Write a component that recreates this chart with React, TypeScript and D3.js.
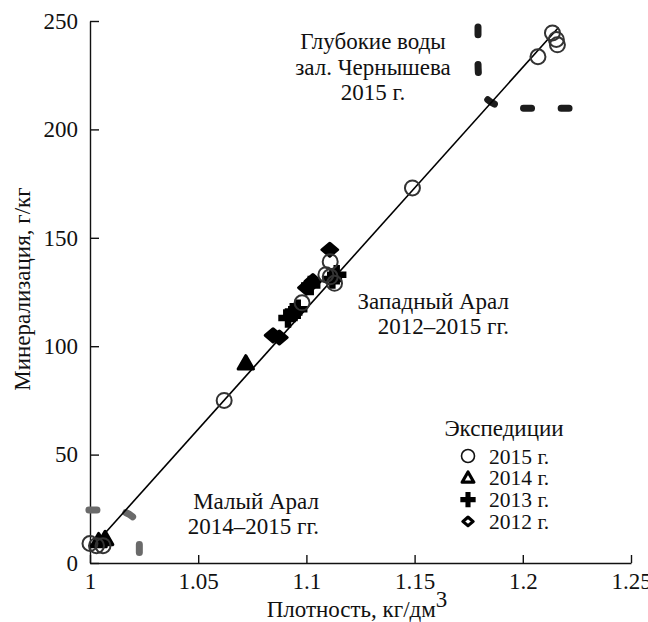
import React, { useEffect, useRef } from 'react';
import * as d3 from 'd3';

// Expedition labels
const years = ['2015 г.', '2014 г.', '2013 г.', '2012 г.'];

// 2015 expedition (circles)
const density2015 = [1.0, 1.003, 1.006, 1.062, 1.098, 1.109, 1.111, 1.111, 1.113, 1.149, 1.207, 1.2137, 1.2155, 1.216];
const mineral2015 = [9, 8, 8, 75, 120, 133, 132, 139, 129, 173, 233.5, 244.5, 241.5, 239];

// 2014 expedition (triangles)
const density2014 = [1.004, 1.007, 1.072];
const mineral2014 = [10, 11, 92];

// 2013 expedition (crosses)
const density2013 = [1.0915, 1.0937, 1.096, 1.102, 1.112, 1.114];
const mineral2013 = [113, 115.5, 117, 128, 131, 133];

// 2012 expedition (diamonds)
const density2012 = [1.0846, 1.0875, 1.1, 1.103, 1.1108];
const mineral2012 = [105, 104, 127, 130, 144.5];

// regression line ends
const fitDensity = [1.004, 1.2165];
const fitMineral = [10.5, 247];

// dashed boundaries of the water groups
const smallAralX = [0.9977, 1.0043, 1.0228, 1.0228, 1.0228];
const smallAralY = [24.4, 24.4, 24.4, 5.9, 0];
const deepX = [1.1793, 1.1793, 1.1793, 1.2047, 1.2248];
const deepY = [250, 235, 209.7, 209.7, 209.7];

const xTicks = [1, 1.05, 1.1, 1.15, 1.2, 1.25];
const yTicks = [0, 50, 100, 150, 200, 250];

const FONT = '"Liberation Serif", "Times New Roman", serif';
const FS = 23;

const symbols = [d3.symbolCircle, d3.symbolTriangle, d3.symbolCross, d3.symbolDiamond2];

function App() {
  const svgRef = useRef<SVGSVGElement>(null);

  useEffect(() => {
    const width = 648;
    const height = 622;
    const margin = { left: 90, right: 17, top: 21, bottom: 59 };

    const svg = d3.select(svgRef.current)
      .attr('width', width)
      .attr('height', height);
    svg.selectAll('*').remove();

    const x = d3.scaleLinear().domain([1, 1.25]).range([margin.left, width - margin.right]);
    const y = d3.scaleLinear().domain([0, 250]).range([height - margin.bottom, margin.top]);

    // axes, ticks pointing inward
    const xAxis = svg.append('g')
      .attr('transform', `translate(0,${height - margin.bottom})`)
      .call(d3.axisBottom(x).tickValues(xTicks).tickSizeInner(-8).tickSizeOuter(0).tickPadding(10)
        .tickFormat((d) => String(+(+d).toFixed(2))));
    const yAxis = svg.append('g')
      .attr('transform', `translate(${margin.left},0)`)
      .call(d3.axisLeft(y).tickValues(yTicks).tickSizeInner(-9).tickSizeOuter(0).tickPadding(12));

    [xAxis, yAxis].forEach((ax) => {
      ax.selectAll('path, line').attr('stroke', '#111').attr('stroke-width', 1.4);
      ax.selectAll('text').attr('font-family', FONT).attr('font-size', FS).attr('fill', '#111');
    });

    // dashed group boundaries
    const line = d3.line<[number, number]>()
      .x((d) => x(d[0]))
      .y((d) => y(d[1]))
      .curve(d3.curveBasis);

    svg.append('path')
      .attr('d', line(smallAralX.map((v, i) => [v, smallAralY[i]])))
      .attr('fill', 'none')
      .attr('stroke', '#6a6a6a')
      .attr('stroke-width', 7)
      .attr('stroke-linecap', 'round')
      .attr('stroke-dasharray', '8 29')
      .attr('stroke-dashoffset', -4);

    svg.append('path')
      .attr('d', line(deepX.map((v, i) => [v, deepY[i]])))
      .attr('fill', 'none')
      .attr('stroke', '#1c1c1c')
      .attr('stroke-width', 7)
      .attr('stroke-linecap', 'round')
      .attr('stroke-dasharray', '8 29.5')
      .attr('stroke-dashoffset', -6);

    // regression line
    svg.append('line')
      .attr('x1', x(fitDensity[0]))
      .attr('y1', y(fitMineral[0]))
      .attr('x2', x(fitDensity[1]))
      .attr('y2', y(fitMineral[1]))
      .attr('stroke', '#000')
      .attr('stroke-width', 1.6);

    const series = [
      [density2015, mineral2015],
      [density2014, mineral2014],
      [density2013, mineral2013],
      [density2012, mineral2012],
    ];

    // marker drawing, shared by points and legend
    const drawMarker = (g: any, k: number, cx: number, cy: number, legend: boolean) => {
      if (k === 0) {
        g.append('circle')
          .attr('cx', cx).attr('cy', cy).attr('r', legend ? 6.5 : 7.5)
          .attr('fill', 'none')
          .attr('stroke', legend ? '#111' : '#333')
          .attr('stroke-width', legend ? 1.6 : 2);
      } else if (k === 1) {
        g.append('path')
          .attr('d', d3.symbol().type(symbols[1]).size(legend ? 60 : 100)())
          .attr('transform', `translate(${cx},${cy + 1})`)
          .attr('fill', legend ? 'none' : '#000')
          .attr('stroke', '#000')
          .attr('stroke-width', 3.2)
          .attr('stroke-linejoin', 'round');
      } else if (k === 2) {
        g.append('path')
          .attr('d', d3.symbol().type(symbols[2]).size(legend ? 130 : 210)())
          .attr('transform', `translate(${cx},${cy})`)
          .attr('fill', '#000');
      } else {
        g.append('path')
          .attr('d', d3.symbol().type(symbols[3]).size(legend ? 65 : 150)())
          .attr('transform', `translate(${cx},${cy}) scale(1,0.85)`)
          .attr('fill', legend ? 'none' : '#000')
          .attr('stroke', '#000')
          .attr('stroke-width', 3.4)
          .attr('stroke-linejoin', 'round');
      }
    };

    // draw 2012 first so 2015 circles remain visible on top
    const pts = svg.append('g');
    [3, 2, 1, 0].forEach((k) => {
      const [xs, ys] = series[k];
      xs.forEach((v, i) => drawMarker(pts, k, x(v), y(ys[i]), false));
    });

    // annotations
    const text = (lines: string[], tx: number, ty: number, anchor: string, dy: number, fs = FS) => {
      const t = svg.append('text')
        .attr('font-family', FONT)
        .attr('font-size', fs)
        .attr('fill', '#111')
        .attr('text-anchor', anchor);
      lines.forEach((s, i) => {
        t.append('tspan').attr('x', tx).attr('y', ty + i * dy).text(s);
      });
    };

    text(['Глубокие воды', 'зал. Чернышева', '2015 г.'], 373, 49, 'middle', 25.5);
    text(['Западный Арал', '2012–2015 гг.'], 509, 309, 'end', 24.5);
    text(['Малый Арал', '2014–2015 гг.'], 319, 509, 'end', 24.5);

    // legend
    text(['Экспедиции'], 504, 436, 'middle', 0);
    years.forEach((yr, k) => {
      const ly = 456 + k * 21.8;
      drawMarker(svg, k, 468, ly, true);
      svg.append('text')
        .attr('x', 489)
        .attr('y', ly + 7.5)
        .attr('font-family', FONT)
        .attr('font-size', 21.5)
        .attr('fill', '#111')
        .text(yr);
    });

    // axis titles
    const xTitle = svg.append('text')
      .attr('x', 357)
      .attr('y', 617)
      .attr('text-anchor', 'middle')
      .attr('font-family', FONT)
      .attr('font-size', FS)
      .attr('fill', '#111');
    xTitle.append('tspan').text('Плотность, кг/дм');
    xTitle.append('tspan').attr('dy', -10).text('3');

    svg.append('text')
      .attr('transform', `translate(30,289) rotate(-90)`)
      .attr('text-anchor', 'middle')
      .attr('font-family', FONT)
      .attr('font-size', FS)
      .attr('fill', '#111')
      .text('Минерализация, г/кг');
  }, []);

  return (
    <svg ref={svgRef} style={{ position: 'absolute', left: 0, top: 0 }} />
  );
}

export default App;
